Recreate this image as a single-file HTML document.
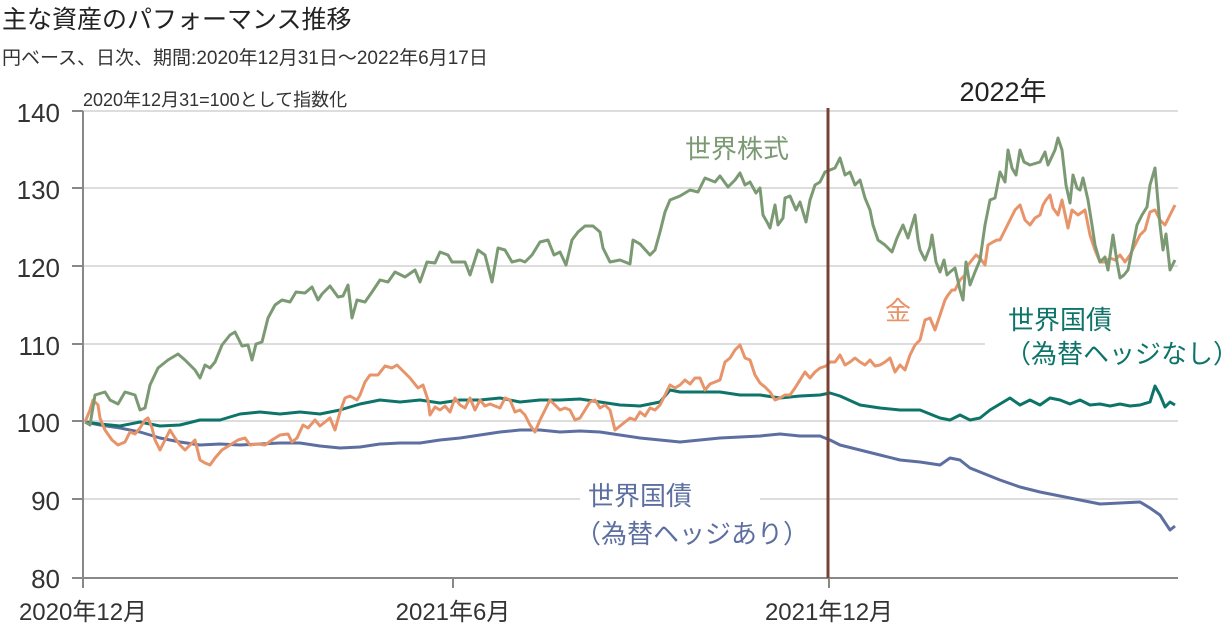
<!DOCTYPE html>
<html><head><meta charset="utf-8"><style>
body{margin:0;background:#fff;width:1224px;height:632px;overflow:hidden;font-family:"Liberation Sans","Noto Sans CJK JP",sans-serif}
</style></head><body>
<svg width="1224" height="632" viewBox="0 0 1224 632" xmlns="http://www.w3.org/2000/svg" style="font-family:'Liberation Sans','Noto Sans CJK JP',sans-serif">
<text x="2" y="28" font-size="25" fill="#222">主な資産のパフォーマンス推移</text>
<text x="2" y="64" font-size="19" fill="#333">円ベース、日次、期間:2020年12月31日～2022年6月17日</text>
<text x="83" y="106" font-size="18" fill="#333">2020年12月31=100として指数化</text>
<g stroke="#ddd" stroke-width="2">
<line x1="83" y1="111" x2="1178" y2="111"/><line x1="83" y1="188" x2="1178" y2="188"/><line x1="83" y1="266" x2="1178" y2="266"/><line x1="83" y1="344" x2="985" y2="344"/><line x1="83" y1="421" x2="1178" y2="421"/><line x1="83" y1="499" x2="580" y2="499"/><line x1="760" y1="499" x2="1178" y2="499"/>
</g>
<g stroke="#888" stroke-width="2"><line x1="83" y1="111" x2="83" y2="578"/><line x1="72" y1="578" x2="1178" y2="578"/>
<line x1="72" y1="111" x2="83" y2="111"/><line x1="72" y1="188" x2="83" y2="188"/><line x1="72" y1="266" x2="83" y2="266"/><line x1="72" y1="344" x2="83" y2="344"/><line x1="72" y1="421" x2="83" y2="421"/><line x1="72" y1="499" x2="83" y2="499"/>
<line x1="83" y1="578" x2="83" y2="588"/><line x1="453" y1="578" x2="453" y2="588"/><line x1="829" y1="578" x2="829" y2="588"/></g>
<g font-size="26" fill="#333" text-anchor="end"><text x="60" y="122">140</text><text x="60" y="199">130</text><text x="60" y="277">120</text><text x="60" y="355">110</text><text x="60" y="432">100</text><text x="60" y="510">90</text><text x="60" y="588">80</text></g>
<g font-size="24" fill="#333" text-anchor="middle"><text x="83" y="620">2020年12月</text><text x="453" y="620">2021年6月</text><text x="829" y="620">2021年12月</text></g>
<text x="1003" y="101" font-size="27" fill="#222" text-anchor="middle">2022年</text>
<g fill="none" stroke-width="3" stroke-linejoin="round">
<polyline stroke="#5c6fa0" points="85,422 100,425 120,428 140,432 160,438 180,442 200,445 220,444 240,445 260,444 280,443 300,443 320,446 340,448 360,447 380,444 400,443 420,443 440,440 460,438 480,435 500,432 520,430 540,430 560,432 580,431 600,432 620,435 640,438 660,440 680,442 700,440 720,438 740,437 760,436 780,434 800,436 820,436 830,440 840,445 860,450 880,455 900,460 920,462 940,465 950,458 960,460 970,468 980,472 1000,480 1020,487 1040,492 1060,496 1080,500 1100,504 1120,503 1140,502 1150,508 1160,515 1170,530 1175,526"/>
<polyline stroke="#0e7469" points="85,422 100,424 120,426 140,422 160,426 180,425 200,420 220,420 240,414 260,412 280,414 300,412 320,414 340,410 360,404 380,400 400,402 420,400 440,403 460,400 480,400 500,398 520,402 540,400 560,400 580,399 600,402 620,405 640,406 660,402 670,390 680,392 700,392 720,392 740,395 760,395 780,398 800,396 820,395 830,393 840,396 860,405 880,408 900,410 920,410 940,418 950,420 960,415 970,420 980,418 990,410 1000,404 1010,398 1020,405 1030,400 1040,405 1050,398 1060,400 1070,404 1080,400 1090,405 1100,404 1110,406 1120,404 1130,406 1140,405 1150,402 1155,386 1160,395 1165,407 1170,402 1175,405"/>
<polyline stroke="#e8946a" points="85,422 90,410 93,400 98,405 100,418 105,430 112,440 118,445 125,442 130,432 135,434 140,428 145,420 148,418 152,428 155,440 160,450 165,440 170,430 175,438 180,445 185,450 190,445 195,440 200,460 205,463 210,465 215,458 222,450 230,445 238,440 245,438 250,445 258,444 265,445 272,440 280,435 288,434 292,442 297,438 303,425 308,428 315,420 320,426 325,422 330,418 335,430 340,412 345,398 350,396 357,400 360,395 365,382 370,375 378,375 385,366 392,368 397,365 404,372 410,378 418,388 423,385 428,400 430,415 435,407 440,410 445,406 450,412 455,398 460,405 465,408 470,398 475,410 480,400 485,406 490,404 495,406 500,408 505,398 510,400 515,412 520,410 525,415 530,425 535,432 540,420 545,410 550,400 555,405 560,410 565,408 570,410 575,420 580,418 585,410 590,402 595,400 600,408 605,405 610,410 615,430 620,426 625,422 630,418 635,420 640,412 645,416 650,408 655,410 660,405 665,395 670,385 675,388 680,385 685,380 690,384 695,378 700,378 705,390 710,384 715,382 720,380 725,362 730,358 735,350 740,345 745,358 750,360 755,375 760,383 765,387 770,392 775,400 780,398 785,395 790,395 795,388 800,380 805,372 810,378 815,372 820,368 826,366 830,362 835,362 840,355 845,365 850,362 855,358 860,362 865,365 870,360 875,366 880,365 885,362 890,358 895,372 900,365 905,370 910,355 915,345 920,340 925,320 930,318 935,330 940,315 945,300 948,295 952,290 955,290 960,280 965,275 968,265 972,260 976,255 980,258 985,265 988,245 993,242 997,240 1000,240 1005,230 1010,220 1015,210 1020,205 1025,220 1030,225 1035,218 1040,215 1043,205 1046,200 1050,195 1053,208 1058,215 1062,200 1068,228 1072,210 1078,215 1085,210 1090,235 1095,250 1100,262 1105,262 1110,258 1115,260 1120,255 1125,262 1130,255 1135,245 1140,235 1145,230 1150,212 1155,210 1160,220 1165,225 1170,215 1175,205"/>
<polyline stroke="#7b9a73" points="85,422 90,425 95,395 105,392 110,400 118,404 125,392 135,395 140,410 145,408 150,385 158,368 168,360 178,354 185,360 195,370 200,378 205,365 210,368 215,362 222,345 230,335 235,332 242,346 248,345 252,360 256,344 262,342 268,318 275,305 282,300 290,302 296,292 305,293 312,287 318,300 322,294 330,286 338,297 343,296 348,285 352,318 357,300 365,302 372,292 380,280 388,282 395,272 405,277 415,270 420,282 427,262 435,263 440,252 448,255 452,262 459,262 465,262 470,275 478,250 485,255 492,282 498,248 505,250 512,262 520,260 525,262 532,255 540,242 548,240 554,255 560,252 566,265 572,240 578,232 585,226 593,226 600,232 603,248 610,262 620,260 630,264 633,240 640,244 650,255 655,250 660,232 665,212 670,200 680,196 690,190 698,192 705,178 715,182 720,176 728,187 735,180 740,173 745,185 750,182 756,193 760,188 763,215 767,222 770,228 775,205 778,225 783,218 785,198 790,196 796,210 800,202 806,222 810,200 815,185 820,182 825,172 830,170 835,168 840,158 845,175 850,172 855,185 860,180 865,198 870,210 873,225 878,240 885,245 892,252 897,238 903,225 908,238 912,225 915,215 918,240 920,250 925,260 930,247 932,235 936,262 940,272 944,260 947,275 950,272 955,268 960,290 963,300 966,262 970,285 975,272 980,260 985,225 990,200 995,198 1000,172 1005,182 1008,150 1012,168 1016,175 1020,150 1024,162 1030,165 1040,162 1045,152 1048,165 1055,150 1058,138 1062,150 1066,185 1070,203 1073,175 1077,188 1080,190 1083,178 1088,200 1092,225 1095,245 1100,262 1105,257 1108,270 1113,235 1117,262 1120,278 1124,275 1128,270 1132,250 1137,225 1142,215 1147,207 1150,185 1155,168 1160,225 1163,250 1166,234 1170,270 1175,260"/>
</g>
<line x1="828" y1="108" x2="828" y2="578" stroke="#7a4235" stroke-width="3"/>
<g font-size="26">
<text x="685" y="158" fill="#7b9a73">世界株式</text>
<text x="885" y="320" fill="#e8946a">金</text>
<text x="1008" y="329" fill="#0e7469">世界国債</text>
<text x="1005" y="363" fill="#0e7469">（為替ヘッジなし）</text>
<text x="588" y="505" fill="#5c6fa0">世界国債</text>
<text x="575" y="543" fill="#5c6fa0">（為替ヘッジあり）</text>
</g>
</svg>
</body></html>
